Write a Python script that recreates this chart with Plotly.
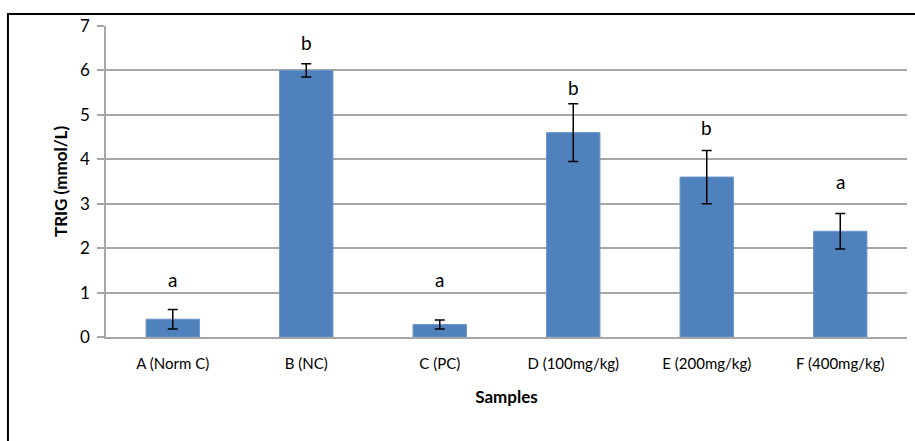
import plotly.graph_objects as go

categories = ["A (Norm C)", "B (NC)", "C (PC)", "D (100mg/kg)", "E (200mg/kg)", "F (400mg/kg)"]
trig_values = [0.40, 6.00, 0.28, 4.60, 3.60, 2.38]
trig_errors = [0.22, 0.15, 0.10, 0.65, 0.60, 0.40]
sig_letters = ["a", "b", "a", "b", "b", "a"]
letter_heights = [1.10, 6.44, 1.10, 5.42, 4.52, 3.31]

FONT = "Lato, Arial, sans-serif"
GRID = "#A6A6A6"

fig = go.Figure()
fig.add_trace(go.Bar(
    x=categories,
    y=trig_values,
    marker=dict(color="#4F81BD", line=dict(color="#6A95C8", width=1)),
    error_y=dict(type="data", array=trig_errors, visible=True,
                 color="#000000", thickness=1.5, width=5),
    showlegend=False,
))

for cat, lab, h in zip(categories, sig_letters, letter_heights):
    fig.add_annotation(x=cat, y=h, text=lab, showarrow=False,
                       yanchor="bottom", xanchor="center", yshift=-5,
                       font=dict(family=FONT, size=19, color="#000000"))

# outer chart border
fig.add_shape(type="rect", xref="paper", yref="paper",
              x0=-0.1224, x1=1.03, y0=-0.40, y1=1.0386,
              line=dict(color="#000000", width=2), layer="above")

fig.update_layout(
    width=915, height=441,
    margin=dict(l=106, r=8, t=26, b=104),
    paper_bgcolor="white", plot_bgcolor="white",
    bargap=0.60,
    font=dict(family=FONT, size=16, color="#000000"),
    xaxis=dict(
        showgrid=False, showline=True, linecolor=GRID, linewidth=1.5,
        ticks="", ticklabelstandoff=12,
        tickfont=dict(family=FONT, size=15, color="#000000"),
        title=dict(text="<b>Samples</b>", standoff=20,
                   font=dict(family=FONT, size=17, color="#000000")),
    ),
    yaxis=dict(
        range=[0, 7], dtick=1, showgrid=True, gridcolor=GRID, gridwidth=1.5,
        showline=True, linecolor=GRID, linewidth=1.5,
        ticks="outside", ticklen=7, tickcolor=GRID, tickwidth=1.5,
        ticklabelstandoff=4, zeroline=False,
        tickfont=dict(family=FONT, size=17, color="#000000"),
        title=dict(text="<b>TRIG (mmol/L)</b>", standoff=8,
                   font=dict(family=FONT, size=17, color="#000000")),
    ),
)

fig.write_html("out.html")
